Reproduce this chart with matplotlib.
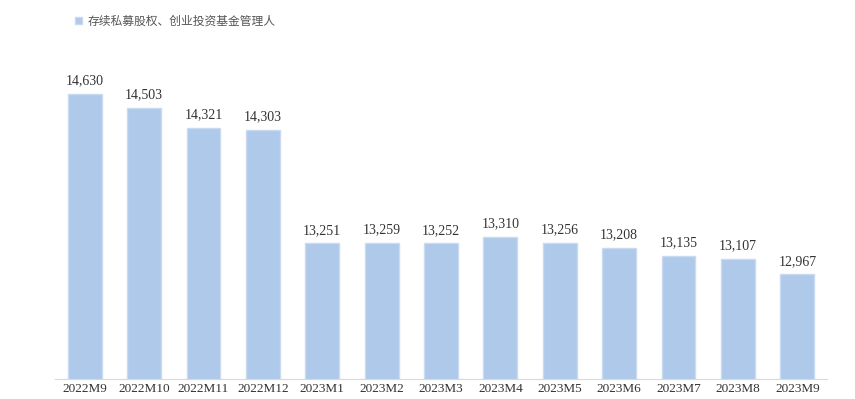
import numpy as np
import matplotlib.pyplot as plt

months = ['2022M9', '2022M10', '2022M11', '2022M12', '2023M1', '2023M2', '2023M3',
          '2023M4', '2023M5', '2023M6', '2023M7', '2023M8', '2023M9']
managers = [14630, 14503, 14321, 14303, 13251, 13259, 13252,
            13310, 13256, 13208, 13135, 13107, 12967]
series_name = '存续私募股权、创业投资基金管理人'

fig = plt.figure(figsize=(8.55, 3.99), dpi=100)
ax = fig.add_axes([55 / 855, 20 / 399, 772 / 855, 325 / 399])

x = np.arange(len(months))
bars = ax.bar(x, managers, width=0.57, color='#AFC9EA', edgecolor='#C9DBF1',
              linewidth=1.0, label=series_name)

for xi, v in zip(x, managers):
    ax.text(xi, v + 60, f'{v:,}', ha='center', va='bottom',
            fontsize=10, family='Liberation Serif', color='#333333')

ax.set_ylim(12000, 15000)
ax.set_xlim(-0.5, len(months) - 0.5)
ax.set_xticks(x)
ax.set_xticklabels(months, family='Liberation Serif', fontsize=9.5, color='#333333')
ax.tick_params(axis='x', length=0, pad=3)
ax.set_yticks([])
for s in ['top', 'right', 'left']:
    ax.spines[s].set_visible(False)
ax.spines['bottom'].set_color('#D9D9D9')

fig.legend(loc='upper left', bbox_to_anchor=(64 / 855, 1 - 4 / 399), frameon=False,
           prop={'family': ['Noto Sans CJK SC', 'DejaVu Sans'], 'size': 8.5},
           handlelength=0.6, handleheight=0.6, handletextpad=0.5,
           labelcolor='#555555')

fig.savefig('out.png', dpi=100)
